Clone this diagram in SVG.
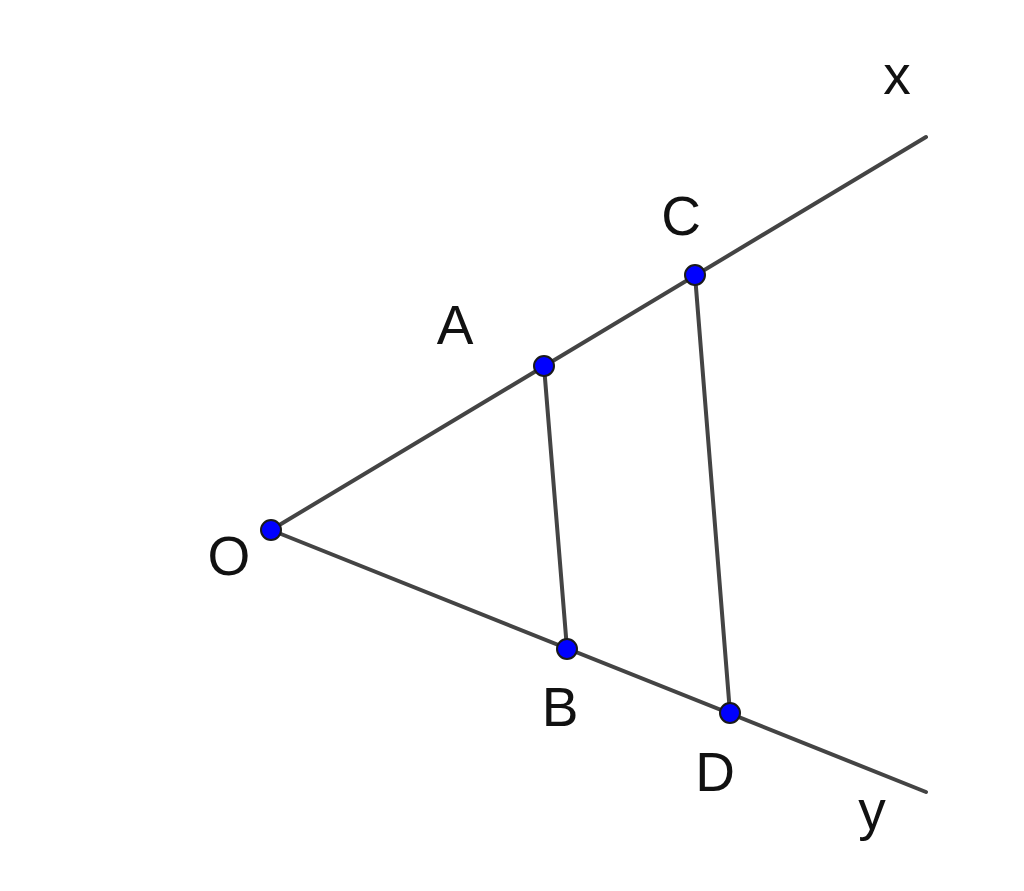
<svg xmlns="http://www.w3.org/2000/svg" width="1024" height="891" viewBox="0 0 1024 891">
<style>
.ln{stroke:#444;stroke-width:4;stroke-linecap:round;fill:none}
.pt{fill:#0000ff;stroke:#1a1a1a;stroke-width:2}
.lb{font-family:"Liberation Sans",Arial,sans-serif;font-size:55px;fill:#111;text-anchor:middle}
</style>
<rect width="1024" height="891" fill="#fff"/>
<g id="connectors">
<line class="ln" x1="271" y1="530" x2="926" y2="137"/>
<line class="ln" x1="271" y1="530" x2="926" y2="792"/>
<line class="ln" x1="544" y1="366" x2="567" y2="649"/>
<line class="ln" x1="695" y1="275" x2="730" y2="713"/>
</g>
<g id="O"><circle class="pt" cx="271" cy="530" r="10"/><text class="lb" x="229" y="575">O</text></g>
<g id="A"><circle class="pt" cx="544" cy="366" r="10"/><text class="lb" x="455" y="344">A</text></g>
<g id="C"><circle class="pt" cx="695" cy="275" r="10"/><text class="lb" x="681" y="235">C</text></g>
<g id="B"><circle class="pt" cx="567" cy="649" r="10"/><text class="lb" x="560" y="726">B</text></g>
<g id="D"><circle class="pt" cx="730" cy="713" r="10"/><text class="lb" x="715" y="791">D</text></g>
<g id="x"><text class="lb" x="897" y="94">x</text></g>
<g id="y"><text class="lb" x="872" y="829">y</text></g>
</svg>
